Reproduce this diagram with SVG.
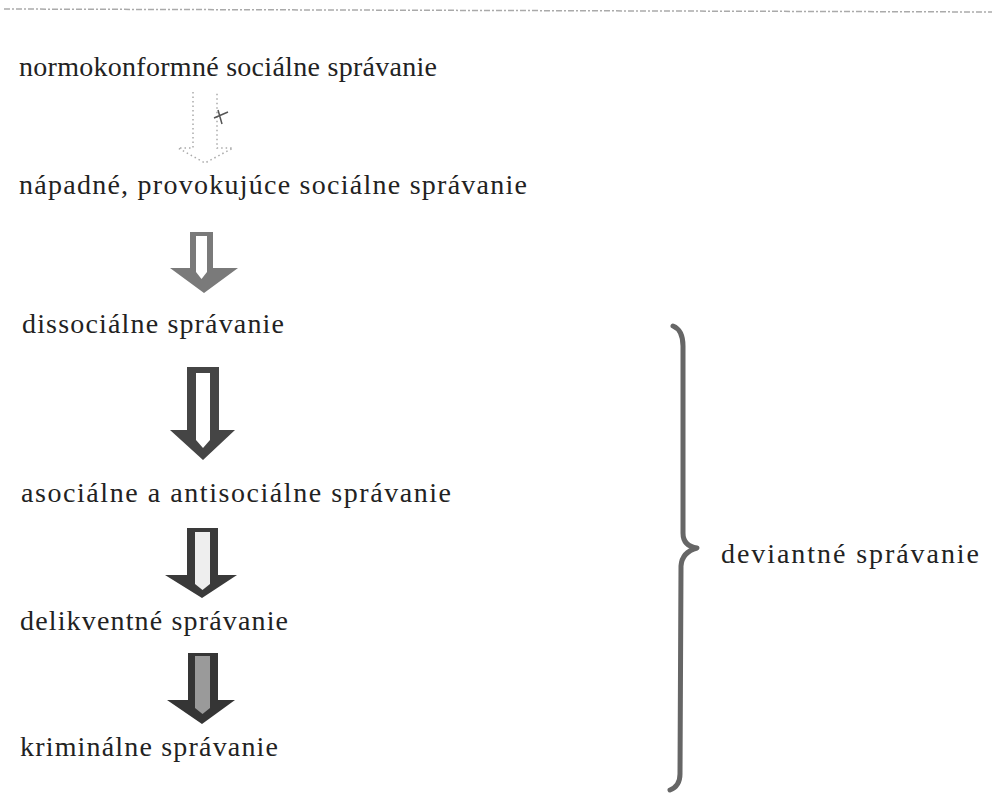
<svg xmlns="http://www.w3.org/2000/svg" width="992" height="798" viewBox="0 0 992 798">
<style>
.t{font-family:'Liberation Serif','DejaVu Serif',serif;font-size:28px;fill:#222;}
.brace{fill:none;stroke:#666;stroke-width:5;stroke-linecap:round;stroke-linejoin:round;}
</style>
<rect width="992" height="798" fill="#fff"/>
<line x1="4" y1="9" x2="992" y2="12" stroke="#aaa" stroke-width="1.5" stroke-dasharray="6 2 2 2"/>
<g id="n1"><text class="t" font-family="Liberation Serif, serif" x="19" y="76" textLength="418" lengthAdjust="spacing">normokonformné sociálne správanie</text></g>
<g id="n2"><text class="t" font-family="Liberation Serif, serif" x="19" y="194" textLength="508" lengthAdjust="spacing">nápadné, provokujúce sociálne správanie</text></g>
<g id="n3"><text class="t" font-family="Liberation Serif, serif" x="22" y="333" textLength="262" lengthAdjust="spacing">dissociálne správanie</text></g>
<g id="n4"><text class="t" font-family="Liberation Serif, serif" x="21" y="502" textLength="430" lengthAdjust="spacing">asociálne a antisociálne správanie</text></g>
<g id="n5"><text class="t" font-family="Liberation Serif, serif" x="20" y="630" textLength="268" lengthAdjust="spacing">delikventné správanie</text></g>
<g id="n6"><text class="t" font-family="Liberation Serif, serif" x="20" y="756" textLength="258" lengthAdjust="spacing">kriminálne správanie</text></g>
<g id="n7"><text class="t" font-family="Liberation Serif, serif" x="721" y="563" textLength="258" lengthAdjust="spacing">deviantné správanie</text></g>
<g id="connectors">
  <g id="a1">
    <path d="M193 92 L193 148 L178 148 L205 163 L233 148 L217 148 L217 92" fill="none" stroke="#aaa" stroke-width="1.5" stroke-dasharray="1.5 3"/>
    <path d="M214 118 L228 112 M218 110 L222 124" stroke="#555" stroke-width="1.5"/>
  </g>
  <g id="a2">
    <path d="M190 232 H213 V268 H238 L204 293 L170 268 H190 Z" fill="#7a7a7a"/>
    <path d="M196 236 H207 V272 L201.5 279 L196 272 Z" fill="#fff"/>
  </g>
  <g id="a3">
    <path d="M187 367 H219 V430 H235 L203 460 L170 430 H187 Z" fill="#454545"/>
    <path d="M196 373 H210 V440 L203 448 L196 440 Z" fill="#fff"/>
  </g>
  <g id="a4">
    <path d="M187 528 H218 V575 H237 L202 598 L165 575 H187 Z" fill="#3a3a3a"/>
    <path d="M195 532 H210 V584 L202.5 590 L195 584 Z" fill="#eee"/>
  </g>
  <g id="a5">
    <path d="M188 653 H218 V700 H235 L202 724 L167 700 H188 Z" fill="#353535"/>
    <path d="M195 656 H210 V708 L202.5 714 L195 708 Z" fill="#9a9a9a"/>
  </g>
  <path id="brace" class="brace" d="M673 326 Q683 330 683 346 L683 533 Q683 546 697 548 Q682 552 681 566 L680 774 Q680 786 670 790"/>
</g>
</svg>
